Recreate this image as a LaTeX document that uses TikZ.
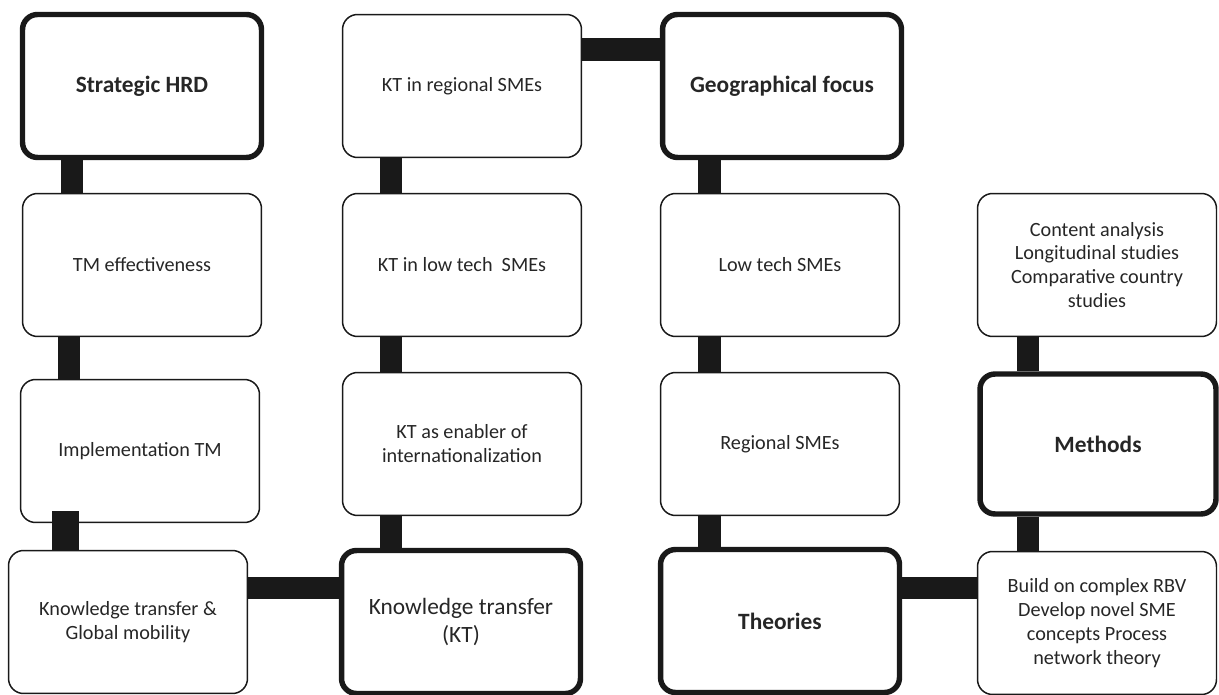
\documentclass[tikz,border=0pt]{standalone}
\usepackage{fontspec}
\setmainfont{Carlito}
\begin{document}
\begin{tikzpicture}[x=0.02cm, y=-0.02cm]
\tikzset{ box/.style={draw=black!90, line width=0.85pt, rounded corners=0.3cm,
            minimum width=4.78cm, minimum height=2.86cm, inner sep=2pt,
            align=center, text=black!85, font=\fontsize{11.5}{13.6}\selectfont},
          hub/.style={box, line width=3.1pt, font=\fontsize{13.3}{16}\selectfont},
          link/.style={draw=black!90, line width=0.45cm},
        }
\useasboundingbox (0,0) rectangle (1219,695);

% first column
\node [hub] (HRD)  at (142,86)  {\bfseries Strategic HRD};
\node [box] (TM)   at (142,265) {TM effectiveness};
\node [box] (IMP)  at (140,451) {Implementation TM};
\node [box] (KTGM) at (128,622) {Knowledge transfer \&\\Global mobility};

% second column
\node [box] (KTREG) at (462,86)  {KT in regional SMEs};
\node [box] (KTLOW) at (462,265) {KT in low tech~ SMEs};
\node [box] (KTINT) at (462,444) {KT as enabler of\\internationalization};
\node [hub] (KT)    at (461,622) {Knowledge transfer\\(KT)};

% third column
\node [hub] (GEO)  at (782,86)  {\bfseries Geographical focus};
\node [box] (LOW)  at (780,265) {Low tech SMEs};
\node [box] (REG)  at (780,444) {Regional SMEs};
\node [hub] (THEO) at (780,621) {\bfseries Theories};

% fourth column
\node [box] (CONT) at (1097,265) {Content analysis\\Longitudinal studies\\Comparative country\\studies};
\node [hub, minimum width=4.72cm, minimum height=2.8cm] (METH) at (1098,444) {\bfseries Methods};
\node [box] (RBV)  at (1097,623) {Build on complex RBV\\Develop novel SME\\concepts Process\\network theory};

\draw [link] (HRD.south -| 72,0) -- (TM.north -| 72,0);
\draw [link] (TM.south -| 69,0)  -- (IMP.north -| 69,0);
\draw [link, line width=0.54cm] ([yshift=0.24cm]IMP.south -| 65.5,0) -- (KTGM.north -| 65.5,0);
\draw [link] (KTGM.east |- 0,588) -- (KT.west |- 0,588);

\draw [link] (KTREG.south -| 391,0) -- (KTLOW.north -| 391,0);
\draw [link] (KTLOW.south -| 391,0) -- (KTINT.north -| 391,0);
\draw [link] (KTINT.south -| 391,0) -- (KT.north -| 391,0);
\draw [link] (KTREG.east |- 0,49.5) -- (GEO.west |- 0,49.5);

\draw [link] (GEO.south -| 709.5,0) -- (LOW.north -| 709.5,0);
\draw [link] (LOW.south -| 709.5,0) -- (REG.north -| 709.5,0);
\draw [link] (REG.south -| 709.5,0) -- (THEO.north -| 709.5,0);
\draw [link] (THEO.east |- 0,588) -- (RBV.west |- 0,588);

\draw [link] (CONT.south -| 1028,0) -- (METH.north -| 1028,0);
\draw [link] (METH.south -| 1028,0) -- (RBV.north -| 1028,0);

\end{tikzpicture}
\end{document}
